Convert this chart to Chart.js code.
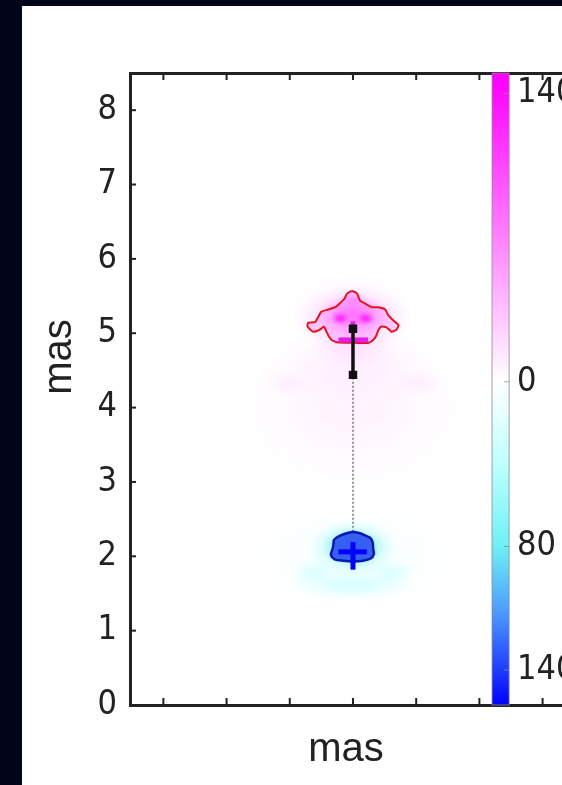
<!DOCTYPE html>
<html>
<head>
<meta charset="utf-8">
<script src="https://cdn.jsdelivr.net/npm/chart.js"></script>
<style>
    html, body { margin: 0; padding: 0; background: #02041a; }
    #panel {
        position: absolute; left: 22px; top: 6px;
        width: 540px; height: 779px; background: #ffffff;
    }
</style>
</head>
<body>
<div id="panel"><canvas id="grafica-mapa"></canvas></div>
<script>
// ticks
const yTicks = [0, 1, 2, 3, 4, 5, 6, 7, 8];
const xTicks = [-3, -2, -1, 0, 1, 2, 3];
const cbarTicks = [140, 0, -80, -140];
const cbarLabels = ['140', '0', '80', '140'];
const yTitle = 'mas';

// red contour (top component), mas
const redContourX = [-0.02, 0.06, 0.11, 0.19, 0.30, 0.40, 0.51, 0.56, 0.64, 0.72, 0.69, 0.61, 0.53, 0.45, 0.40, 0.37, 0.32, 0.24,
    -0.26, -0.34, -0.39, -0.43, -0.46, -0.52, -0.63, -0.72, -0.71, -0.60, -0.55, -0.50, -0.39, -0.28, -0.21, -0.13, -0.10, -0.02];
const redContourY = [5.57, 5.54, 5.44, 5.40, 5.35, 5.35, 5.32, 5.24, 5.17, 5.11, 5.05, 5.02, 5.08, 5.09, 5.04, 4.97, 4.91, 4.87,
    4.88, 4.91, 4.97, 5.04, 5.09, 5.05, 5.02, 5.09, 5.14, 5.15, 5.22, 5.29, 5.32, 5.35, 5.40, 5.47, 5.53, 5.57];

// blue contour (bottom component)
const blueContourX = [0.00, 0.11, 0.19, 0.27, 0.31, 0.32, 0.33, 0.28, 0.16, 0.00, -0.15, -0.29, -0.35, -0.33, -0.31, -0.30, -0.22, -0.10, 0.00];
const blueContourY = [2.33, 2.31, 2.28, 2.25, 2.19, 2.10, 2.03, 1.97, 1.94, 1.93, 1.94, 1.96, 2.02, 2.08, 2.15, 2.22, 2.27, 2.31, 2.33];

// marcas
const errorBarX = [0, 0];
const errorBarY = [4.44, 5.06];
const linkX = [0, 0];
const linkY = [2.33, 4.44];
const magentaBarX = [-0.23, 0.24];
const magentaBarY = [4.91, 4.91];
const magentaStemX = [0, 0];
const magentaStemY = [5.06, 5.16];
const blueBarX = [-0.23, 0.22];
const blueBarY = [2.06, 2.06];
const blueStemX = [0, 0];
const blueStemY = [1.82, 2.19];

// brightness map (centre, spread in mas, value on colour bar)
const glowX  = [0, 0, -1.0, 1.0, 0, 0, 0, 0, -0.2, 0.2, 0, 0, 0, -0.6, 0.6, 0, 0];
const glowY  = [4.0, 4.5, 4.33, 4.33, 4.8, 5.25, 5.2, 5.25, 5.2, 5.2, 5.42, 2.0, 1.62, 1.78, 1.78, 2.12, 2.12];
const glowSX = [1.8, 1.3, 0.45, 0.45, 0.7, 1.0, 0.9, 0.55, 0.16, 0.16, 0.2, 1.6, 1.05, 0.4, 0.4, 0.7, 0.5];
const glowSY = [1.1, 0.6, 0.2, 0.2, 0.3, 0.55, 0.45, 0.28, 0.1, 0.1, 0.14, 0.7, 0.22, 0.2, 0.2, 0.38, 0.28];
const glowV  = [6, 9, 9, 9, 16, 12, 30, 75, 140, 140, 60, -6, -25, -22, -22, -60, -85];

// colour map
const cmapValues = [150, 140, 70, 0, -40, -80, -110, -140, -157];
const cmapColors = [[255, 0, 255], [255, 10, 255], [255, 130, 255], [255, 255, 255], [190, 255, 255],
    [110, 240, 245], [80, 160, 255], [30, 60, 255], [0, 0, 255]];

const cbarRange = [2.2, 2.47];
const fuenteNum = '34px "Liberation Sans Narrow", "DejaVu Sans Condensed", sans-serif';

function pts(xs, ys) {
    return xs.map((x, i) => ({ x: x, y: ys[i] }));
}

function cmap(v) {
    for (let i = 0; i < cmapValues.length - 1; i++) {
        const a = cmapValues[i], b = cmapValues[i + 1];
        if (v <= a && v >= b) {
            const t = (a - v) / (a - b);
            return cmapColors[i].map((c, k) => Math.round(c + (cmapColors[i + 1][k] - c) * t));
        }
    }
    return v > 0 ? cmapColors[0] : cmapColors[cmapColors.length - 1];
}

const pluginMapa = {
    id: 'mapa',
    beforeDatasetsDraw(chart) {
        const { ctx, chartArea, scales: { x, y } } = chart;
        ctx.save();
        ctx.beginPath();
        ctx.rect(chartArea.left, chartArea.top, chartArea.right - chartArea.left, chartArea.bottom - chartArea.top);
        ctx.clip();
        glowX.forEach((gx, i) => {
            const cx = x.getPixelForValue(gx);
            const cy = y.getPixelForValue(glowY[i]);
            const rx = Math.abs(x.getPixelForValue(gx + glowSX[i]) - cx);
            const ry = Math.abs(y.getPixelForValue(glowY[i] + glowSY[i]) - cy);
            const c = cmap(glowV[i]).join(',');
            ctx.save();
            ctx.translate(cx, cy);
            ctx.scale(rx, ry);
            const g = ctx.createRadialGradient(0, 0, 0, 0, 0, 1);
            g.addColorStop(0, 'rgba(' + c + ',1)');
            g.addColorStop(0.3, 'rgba(' + c + ',0.8)');
            g.addColorStop(0.6, 'rgba(' + c + ',0.35)');
            g.addColorStop(1, 'rgba(' + c + ',0)');
            ctx.fillStyle = g;
            ctx.beginPath();
            ctx.arc(0, 0, 1, 0, Math.PI * 2);
            ctx.fill();
            ctx.restore();
        });
        ctx.restore();
    },
    afterDatasetsDraw(chart) {
        // ticks hacia dentro
        const { ctx, chartArea, scales: { x, y } } = chart;
        ctx.save();
        ctx.strokeStyle = '#222';
        ctx.lineWidth = 2;
        xTicks.forEach(v => {
            const px = x.getPixelForValue(v);
            ctx.beginPath();
            ctx.moveTo(px, chartArea.bottom);
            ctx.lineTo(px, chartArea.bottom - 7);
            ctx.moveTo(px, chartArea.top);
            ctx.lineTo(px, chartArea.top + 7);
            ctx.stroke();
        });
        yTicks.forEach(v => {
            const py = y.getPixelForValue(v);
            ctx.beginPath();
            ctx.moveTo(chartArea.left, py);
            ctx.lineTo(chartArea.left + 6, py);
            ctx.stroke();
        });
        ctx.restore();
    },
    afterDraw(chart) {
        // barra de color
        const { ctx, chartArea, scales: { x, cb } } = chart;
        const x0 = x.getPixelForValue(cbarRange[0]);
        const x1 = x.getPixelForValue(cbarRange[1]);
        const top = chartArea.top, bottom = chartArea.bottom;
        const g = ctx.createLinearGradient(0, top, 0, bottom);
        cmapValues.forEach((v, i) => {
            const t = Math.min(1, Math.max(0, (cb.getPixelForValue(v) - top) / (bottom - top)));
            g.addColorStop(t, 'rgb(' + cmapColors[i].join(',') + ')');
        });
        ctx.save();
        ctx.fillStyle = g;
        ctx.fillRect(x0, top, x1 - x0, bottom - top);
        ctx.strokeStyle = '#8a8a8a';
        ctx.lineWidth = 0.8;
        ctx.strokeRect(x0, top, x1 - x0, bottom - top);
        ctx.fillStyle = '#222';
        ctx.font = fuenteNum;
        ctx.textBaseline = 'middle';
        ctx.textAlign = 'left';
        cbarTicks.forEach((v, i) => {
            const py = cb.getPixelForValue(v);
            ctx.beginPath();
            ctx.moveTo(x1 - 5, py);
            ctx.lineTo(x1, py);
            ctx.stroke();
            ctx.fillText(cbarLabels[i], x1 + 8, py);
        });

        // titulo eje y
        ctx.translate(38, (chartArea.top + chartArea.bottom) / 2 - 32);
        ctx.rotate(-Math.PI / 2);
        ctx.textAlign = 'center';
        ctx.font = '40px "Liberation Sans", Arial, sans-serif';
        ctx.fillText(yTitle, 0, 0);
        ctx.restore();
    }
};

const ctx = document.getElementById('grafica-mapa').getContext('2d');

new Chart(ctx, {
    type: 'scatter',
    data: {
        datasets: [{
            label: 'error',
            data: pts(errorBarX, errorBarY),
            showLine: true,
            borderColor: '#111',
            borderWidth: 3.5,
            pointStyle: 'rect',
            pointRadius: 3.5,
            pointBackgroundColor: '#111',
            pointBorderColor: '#111'
        }, {
            label: 'magenta stem',
            data: pts(magentaStemX, magentaStemY),
            showLine: true,
            borderColor: '#e81ce8',
            borderWidth: 5,
            pointRadius: 0
        }, {
            label: 'magenta bar',
            data: pts(magentaBarX, magentaBarY),
            showLine: true,
            borderColor: '#e81ce8',
            borderWidth: 5,
            pointRadius: 0
        }, {
            label: 'blue stem',
            data: pts(blueStemX, blueStemY),
            showLine: true,
            borderColor: '#0000ff',
            borderWidth: 5,
            pointRadius: 0
        }, {
            label: 'blue bar',
            data: pts(blueBarX, blueBarY),
            showLine: true,
            borderColor: '#0000ff',
            borderWidth: 5,
            pointRadius: 0
        }, {
            label: 'red contour',
            data: pts(redContourX, redContourY),
            showLine: true,
            borderColor: '#e3141e',
            borderWidth: 2,
            backgroundColor: 'rgba(255,110,255,0.3)',
            fill: 'shape',
            tension: 0.15,
            pointRadius: 0
        }, {
            label: 'blue contour',
            data: pts(blueContourX, blueContourY),
            showLine: true,
            borderColor: '#0818b0',
            borderWidth: 2.5,
            backgroundColor: 'rgba(45,80,240,0.9)',
            fill: 'shape',
            tension: 0.3,
            pointRadius: 0
        }, {
            label: 'link',
            data: pts(linkX, linkY),
            showLine: true,
            borderColor: '#555',
            borderWidth: 1.2,
            borderDash: [2, 2],
            pointRadius: 0
        }]
    },
    options: {
        responsive: true,
        maintainAspectRatio: false,
        animation: false,
        layout: { autoPadding: false, padding: { top: 67, left: 0, right: 0, bottom: 0 } },
        plugins: {
            legend: { display: false },
            tooltip: { enabled: false }
        },
        scales: {
            x: {
                type: 'linear',
                position: 'bottom',
                min: -3.528,
                max: 3.307,
                ticks: { display: false },
                grid: { drawOnChartArea: false, drawTicks: false },
                border: { display: true, color: '#222', width: 3 },
                title: {
                    display: true,
                    text: 'mas',
                    color: '#222',
                    font: { family: '"Liberation Sans", Arial, sans-serif', size: 40 },
                    padding: { top: 0, bottom: 11 }
                },
                afterFit: s => { s.height = 80; }
            },
            x2: {
                type: 'linear',
                position: 'top',
                min: -3.528,
                max: 3.307,
                ticks: { display: false },
                grid: { drawOnChartArea: false, drawTicks: false },
                border: { display: true, color: '#222', width: 3 },
                afterFit: s => { s.height = 0; }
            },
            y: {
                type: 'linear',
                position: 'left',
                min: 0,
                max: 8.5,
                afterBuildTicks: s => { s.ticks = yTicks.map(v => ({ value: v })); },
                ticks: {
                    color: '#222',
                    padding: 13,
                    font: { family: '"Liberation Sans Narrow", "DejaVu Sans Condensed", sans-serif', size: 34 }
                },
                grid: { drawOnChartArea: false, drawTicks: false },
                border: { display: true, color: '#222', width: 3 },
                afterFit: s => { s.width = 108; }
            },
            cb: {
                type: 'linear',
                axis: 'y',
                display: false,
                min: -157,
                max: 150
            }
        }
    },
    plugins: [pluginMapa]
});
</script>
</body>
</html>
